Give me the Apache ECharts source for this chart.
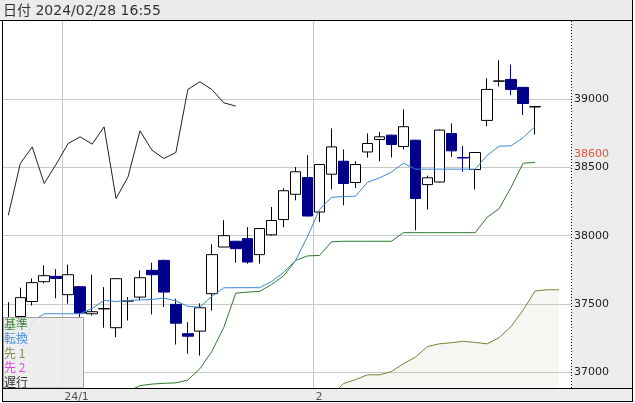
<!DOCTYPE html>
<html><head><meta charset="utf-8">
<script src="https://cdn.jsdelivr.net/npm/echarts@6/dist/echarts.min.js"></script>
<style>html,body{margin:0;padding:0;background:#fff}#c{width:635px;height:403px}</style>
</head><body><div id="c"></div>
<script>
const headerText = '日付 2024/02/28 16:55';
// daily candles, slot 0..44
const open  = [37330,37408,37518,37663,37702,37568,37626,37428,37464,37326,37521,37550,37746,37819,37497,37282,37301,37575,37917,37959,37978,37861,38006,38118,38303,38426,38173,38450,38545,38389,38613,38704,38736,38653,38699,38374,38393,38748,38572,38484,38844,39131,39144,39086,38943];
const close = [37400,37546,37656,37707,37687,37714,37433,37443,37466,37685,37523,37692,37714,37587,37359,37264,37472,37861,38000,37905,37807,38052,38111,38329,38468,38144,38521,38650,38382,38521,38675,38724,38668,38798,38272,38424,38773,38621,38569,38609,39071,39133,39071,38968,38945];
const low   = [37300,37400,37489,37651,37541,37502,37403,37416,37326,37257,37379,37526,37423,37477,37203,37135,37122,37452,37917,37802,37795,37795,38000,38061,38259,38140,38100,38338,38223,38349,38572,38545,38572,38631,38039,38191,38390,38577,38467,38338,38802,39092,39029,38883,38741];
const high  = [37513,37619,37687,37783,37755,37788,37630,37714,37623,37688,37550,37746,37802,37825,37538,37367,37504,37937,38113,37962,38063,38055,38210,38347,38503,38589,38524,38785,38631,38545,38748,38760,38740,38924,38702,38439,38777,38822,38658,38612,39152,39284,39253,39089,38947];

const tenkanStart = 1;
const tenkan = [37115,37372,37428,37428,37428,37428,37467,37526,37518,37526,37530,37533,37543,37522,37482,37477,37555,37618,37619,37619,37619,37665,37731,37819,37995,38193,38281,38286,38289,38391,38423,38465,38531,38487,38487,38487,38487,38487,38487,38589,38655,38658,38718,38800];

const kijunStart = 10;
const kijun = [36858,36902,36913,36919,36922,36943,37025,37152,37328,37579,37587,37592,37643,37706,37819,37852,37855,37955,37959,37959,37959,37959,37959,38022,38022,38022,38022,38022,38022,38022,38135,38198,38355,38531,38536];

const senkouAStart = 27;
const senkouA = [36829,36917,36946,36981,36981,37005,37062,37110,37188,37208,37216,37227,37218,37208,37254,37335,37456,37595,37604,37604];

const chikouStart = 0;
const chikou = [38149,38528,38650,38382,38523,38675,38724,38670,38797,38272,38430,38768,38626,38565,38609,39071,39127,39071,38973,38949];

const yTicks = [37000, 37500, 38000, 38500, 39000];
const markPrice = 38600;
const monthLabels = ['24/1', '2'];
const monthFirstIdx = [5, 26];
const legendNames = ['基準', '転換', '先 1', '先 2', '遅行'];
const legendColors = ['#3f8a3f', '#4a8fe0', '#8a8a4e', '#e048e0', '#333333'];

const monthBounds = monthFirstIdx.map(i => i - 0.5);
const pts = (start, arr) => arr.map((v, i) => [start + i, v]);
const candleData = open.map((o, i) => [i, o, close[i], low[i], high[i]]);

const chart = echarts.init(document.getElementById('c'), null, {renderer: 'canvas', width: 635, height: 403});

const lineSeries = (name, start, arr, color, extra) => Object.assign({
  name, type: 'line', data: pts(start, arr), showSymbol: false, symbol: 'none',
  lineStyle: {color, width: 1}, itemStyle: {color}, z: 3, silent: true
}, extra || {});

const frameZ = 50;
const graphics = [
  {type: 'rect', shape: {x: 0, y: 0, width: 633, height: 20.5}, style: {fill: '#ebebeb'}, z: -1, silent: true},
  {type: 'text', x: 3, y: 11, style: {text: headerText, font: '14px "DejaVu Sans", "Noto Sans CJK JP"', fill: '#333', verticalAlign: 'middle'}, z: 10, silent: true},
  {type: 'rect', shape: {x: 571.5, y: 21, width: 61, height: 367}, style: {fill: '#ececec'}, z: -1, silent: true},
  {type: 'rect', shape: {x: 2.5, y: 388.5, width: 630, height: 13}, style: {fill: '#ececec'}, z: -1, silent: true},
  {type: 'line', shape: {x1: 0, y1: 20.5, x2: 633, y2: 20.5}, style: {stroke: '#000', lineWidth: 1}, z: frameZ, silent: true},
  {type: 'line', shape: {x1: 2.5, y1: 20.5, x2: 2.5, y2: 402}, style: {stroke: '#000', lineWidth: 1}, z: frameZ, silent: true},
  {type: 'line', shape: {x1: 632.5, y1: 0, x2: 632.5, y2: 402}, style: {stroke: '#000', lineWidth: 1}, z: frameZ, silent: true},
  {type: 'line', shape: {x1: 2.5, y1: 388.5, x2: 633, y2: 388.5}, style: {stroke: '#000', lineWidth: 1}, z: frameZ, silent: true},
  {type: 'line', shape: {x1: 2.5, y1: 401.5, x2: 633, y2: 401.5}, style: {stroke: '#000', lineWidth: 1}, z: frameZ, silent: true},
  {type: 'line', shape: {x1: 571.5, y1: 21, x2: 571.5, y2: 388}, style: {stroke: '#000', lineWidth: 1, lineDash: [1, 2]}, z: frameZ, silent: true},
  {type: 'rect', shape: {x: 3.5, y: 317.5, width: 80, height: 70.5}, style: {fill: 'rgba(236,236,236,0.88)', stroke: '#a0a0a0', lineWidth: 1}, z: 40, silent: true}
];
legendNames.forEach((n, i) => {
  graphics.push({type: 'text', x: 4, y: 324 + i * 14.5,
    style: {text: n, font: '12px "Noto Sans CJK JP"', fill: legendColors[i], verticalAlign: 'middle'}, z: 41, silent: true});
});

chart.setOption({
  animation: false,
  backgroundColor: '#ffffff',
  grid: {left: 2.3, right: 64, top: 21, bottom: 14.8, containLabel: false},
  xAxis: {
    type: 'value', min: -0.5, max: 47,
    axisLine: {show: false},
    axisTick: {show: false, customValues: monthBounds},
    axisLabel: {
      customValues: monthBounds,
      formatter: v => monthLabels[monthBounds.indexOf(v)] || '',
      align: 'left', margin: 3, fontSize: 11, color: '#555', fontFamily: 'DejaVu Sans', padding: [0, 0, 0, 2]
    },
    splitLine: {show: true, lineStyle: {color: '#c8c8c8', width: 1}}
  },
  yAxis: {
    type: 'value', position: 'right', min: 36883, max: 39572, scale: true,
    axisLine: {show: false},
    axisTick: {show: false, customValues: yTicks},
    axisLabel: {customValues: yTicks, formatter: v => String(v), margin: 3, fontSize: 11, color: '#222', fontFamily: 'DejaVu Sans'},
    splitLine: {show: true, lineStyle: {color: '#c8c8c8', width: 1}}
  },
  series: [
    lineSeries('先 1', senkouAStart, senkouA, '#7f7f3a', {areaStyle: {color: 'rgba(180,205,170,0.22)', origin: 'start'}, z: 1}),
    {
      name: 'candles', type: 'candlestick', data: candleData, encode: {x: 0, y: [1, 2, 3, 4]},
      barWidth: 11, silent: true,
      itemStyle: {color: '#ffffff', color0: '#00008b', borderColor: '#000000', borderColor0: '#00008b', borderWidth: 1},
      markLine: {
        silent: true, symbol: 'none', animation: false,
        lineStyle: {color: 'transparent', width: 0},
        label: {show: true, position: 'end', formatter: String(markPrice), color: '#e2553a', fontSize: 11, fontFamily: 'DejaVu Sans', distance: 3},
        data: [{yAxis: markPrice}]
      },
      z: 2
    },
    lineSeries('遅行', chikouStart, chikou, '#222222'),
    lineSeries('基準', kijunStart, kijun, '#2e7a2e'),
    lineSeries('転換', tenkanStart, tenkan, '#3d88d8')
  ],
  graphic: graphics
});
</script>
</body></html>
